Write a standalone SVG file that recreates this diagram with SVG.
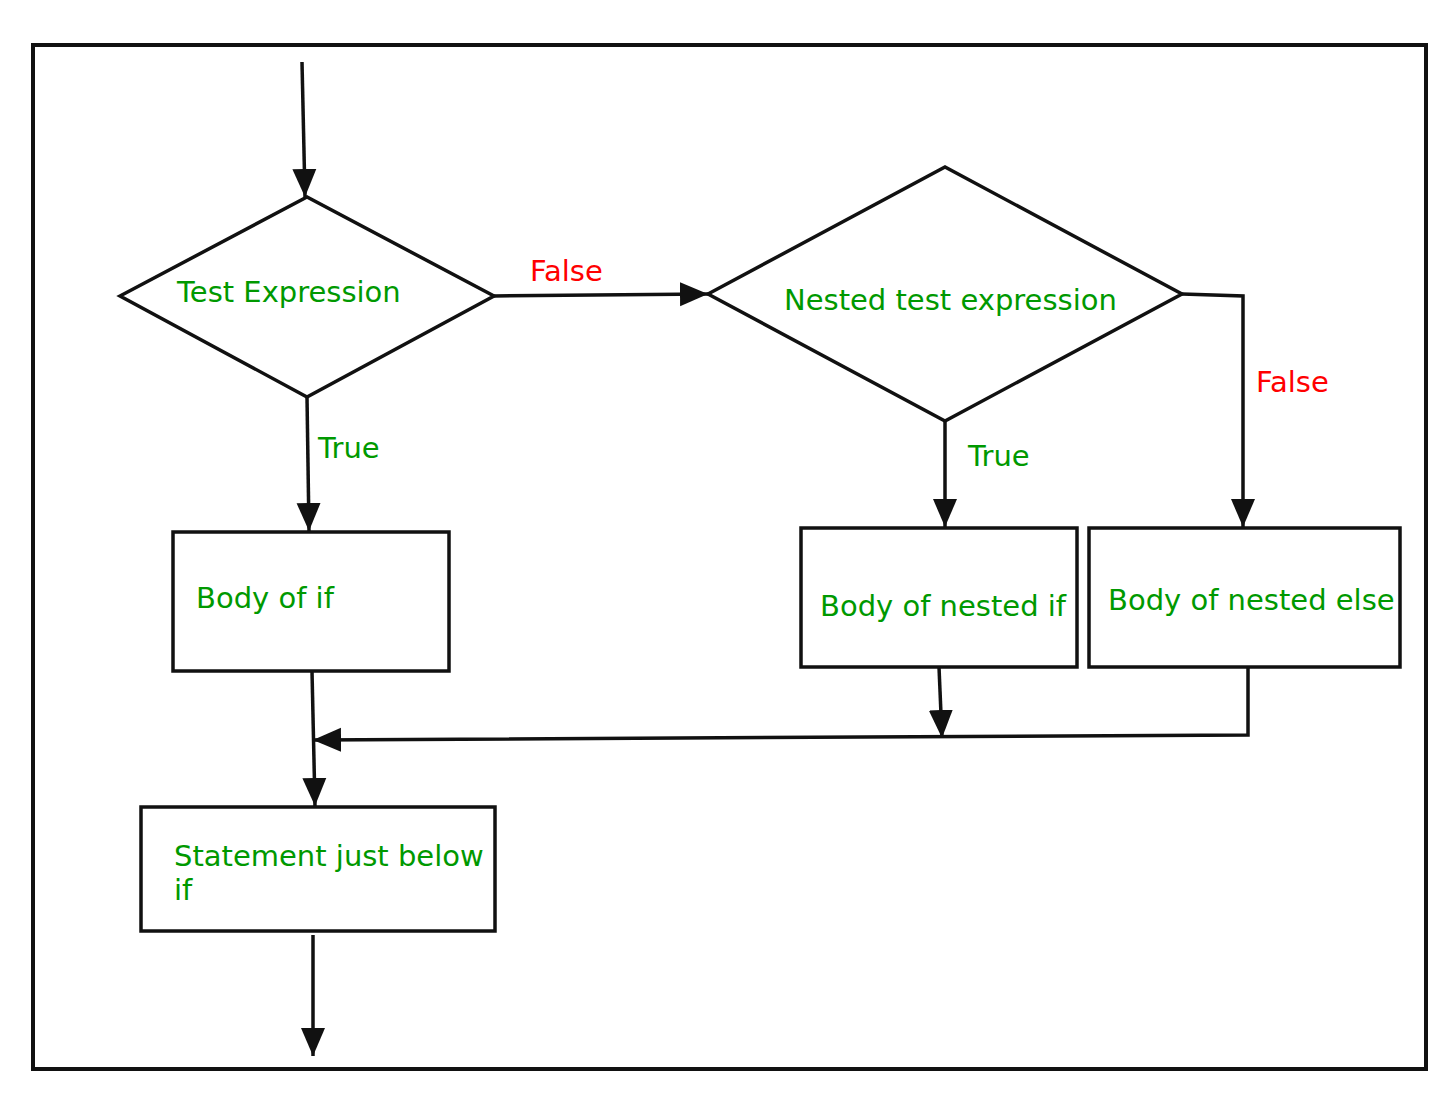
<svg xmlns="http://www.w3.org/2000/svg" width="1456" height="1120" viewBox="0 0 1456 1120">
<style>
.s{fill:none;stroke:#111;stroke-width:3.5}
.c{fill:none;stroke:#111;stroke-width:3.5}
.g{fill:#009900;font-family:"DejaVu Sans",Verdana,sans-serif;font-size:29px}
.r{fill:#ff0000;font-family:"DejaVu Sans",Verdana,sans-serif;font-size:29px}
</style>
<defs>
<marker id="a" markerUnits="userSpaceOnUse" markerWidth="30" markerHeight="30" viewBox="0 0 30 30" refX="28" refY="15" orient="auto">
<path d="M0,3 L28,15 L0,27 Z" fill="#111"/>
</marker>
</defs>
<rect width="1456" height="1120" fill="#fff"/>
<rect x="33" y="45" width="1393" height="1024" fill="none" stroke="#111" stroke-width="4"/>
<g id="connectors">
<line class="c" x1="302" y1="62" x2="305" y2="197" marker-end="url(#a)"/>
<line class="c" x1="494" y1="296" x2="708" y2="294" marker-end="url(#a)"/>
<polyline class="c" points="1182,294 1243,296 1243,527" marker-end="url(#a)"/>
<line class="c" x1="945" y1="421" x2="945" y2="527" marker-end="url(#a)"/>
<line class="c" x1="307" y1="397" x2="309" y2="531" marker-end="url(#a)"/>
<line class="c" x1="939" y1="667" x2="942" y2="738" marker-end="url(#a)"/>
<polyline class="c" points="1248,667 1248,735 313,740" marker-end="url(#a)"/>
<line class="c" x1="312" y1="671" x2="315" y2="806" marker-end="url(#a)"/>
<line class="c" x1="313" y1="935" x2="313" y2="1056" marker-end="url(#a)"/>
<text class="r" x="530" y="281">False</text>
<text class="r" x="1256" y="392">False</text>
<text class="g" x="968" y="466">True</text>
<text class="g" x="318" y="458">True</text>
</g>
<g id="test">
<polygon class="s" points="120,296 307,197 494,296 307,397"/>
<text class="g" x="177" y="302">Test Expression</text>
</g>
<g id="nested">
<polygon class="s" points="708,294 945,167 1182,294 945,421"/>
<text class="g" x="784" y="310">Nested test expression</text>
</g>
<g id="bodyif">
<rect class="s" x="173" y="532" width="276" height="139"/>
<text class="g" x="196" y="608">Body of if</text>
</g>
<g id="bodynestedif">
<rect class="s" x="801" y="528" width="276" height="139"/>
<text class="g" x="820" y="616">Body of nested if</text>
</g>
<g id="bodynestedelse">
<rect class="s" x="1089" y="528" width="311" height="139"/>
<text class="g" x="1108" y="610">Body of nested else</text>
</g>
<g id="statement">
<rect class="s" x="141" y="807" width="354" height="124"/>
<text class="g" x="174" y="866">Statement just below</text>
<text class="g" x="174" y="900">if</text>
</g>
</svg>
